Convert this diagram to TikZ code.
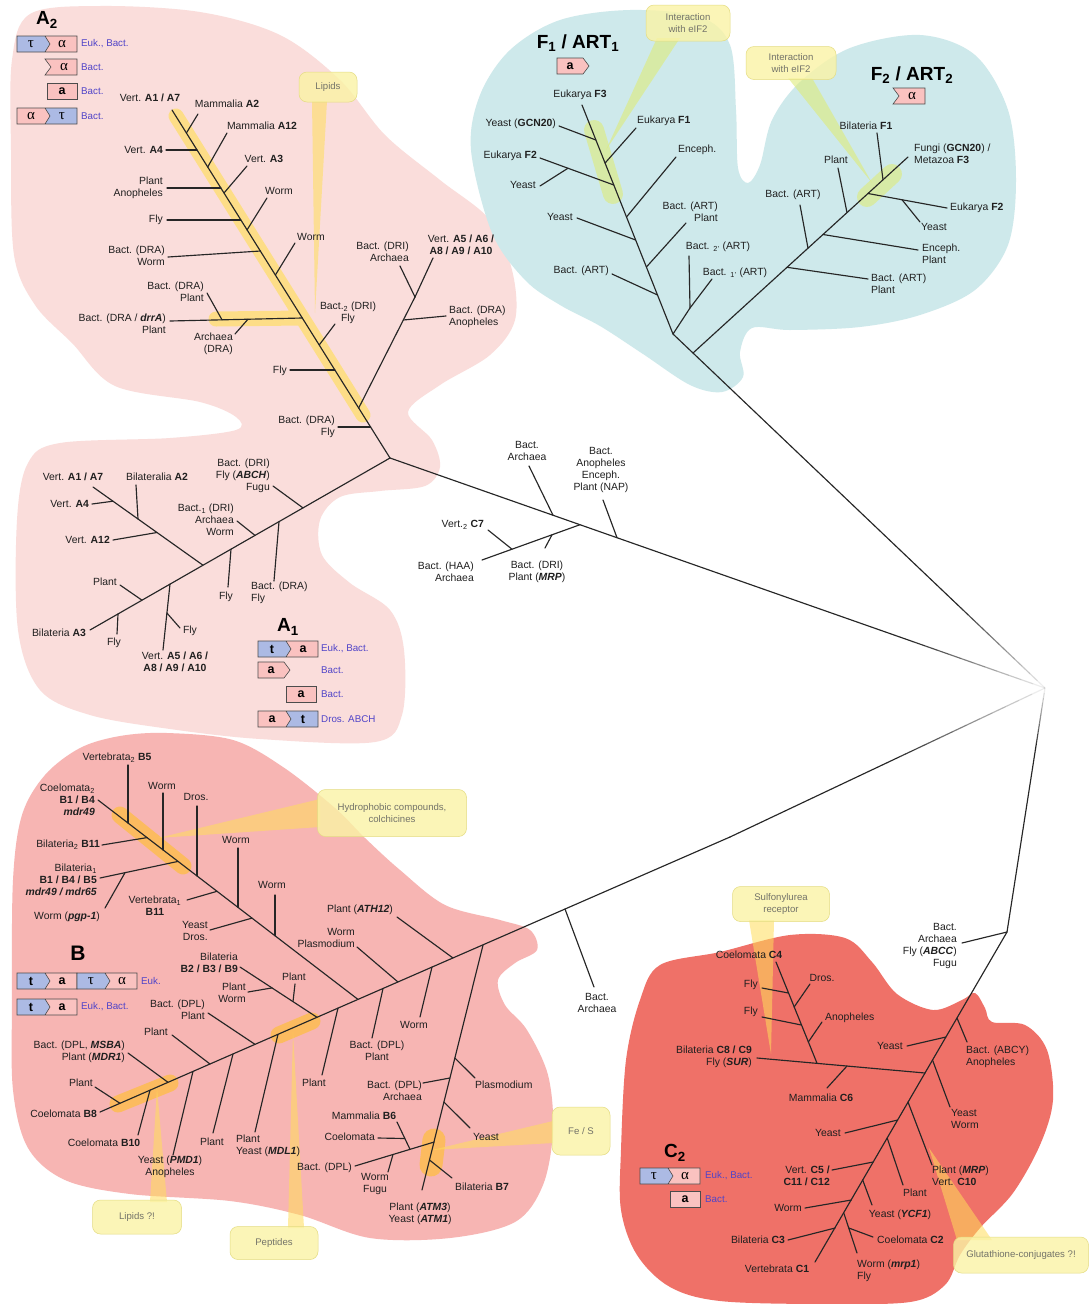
\documentclass[tikz,border=0pt]{standalone}
\usepackage{fontspec}
\setmainfont{Liberation Sans}
\newfontfamily\grkfont{Liberation Serif}
\usetikzlibrary{calc}
\definecolor{colA}{RGB}{250,221,219}
\definecolor{colF}{RGB}{206,233,235}
\definecolor{colB}{RGB}{247,181,179}
\definecolor{colC}{RGB}{239,113,104}
\definecolor{bandY}{RGB}{255,222,90}
\definecolor{bandO}{RGB}{255,190,60}
\definecolor{bandG}{RGB}{222,236,120}
\definecolor{callY}{RGB}{250,243,165}
\definecolor{callB}{RGB}{228,220,130}
\definecolor{callT}{RGB}{115,115,105}
\definecolor{lgBlue}{RGB}{172,186,228}
\definecolor{lgPink}{RGB}{250,194,192}
\definecolor{lgText}{RGB}{80,68,200}
\newcommand\lgT{{\fontsize{12.5}{12}\selectfont\bfseries t}}
\newcommand\lgA{{\fontsize{12.5}{12}\selectfont\bfseries a}}
\newcommand\lgTau{{\grkfont\fontsize{15}{15}\selectfont τ}}
\newcommand\lgAl{{\grkfont\fontsize{15}{15}\selectfont α}}
\tikzset{
 br/.style={line width=1.15pt, draw=black!85, line cap=round},
 lab/.style={font=\fontsize{10.4}{12}\selectfont, inner sep=0pt, text=black!88, align=center},
 ttl/.style={font=\fontsize{19}{20}\selectfont\bfseries, inner sep=0pt},
 lgt/.style={font=\fontsize{9.8}{11}\selectfont, inner sep=0pt, text=lgText, anchor=west},
 lgline/.style={draw=black!70, line width=0.6pt},
 cbox/.style={draw=callB, fill=callY, fill opacity=0.8, text opacity=1, rounded corners=8pt, line width=0.5pt, font=\fontsize{9.6}{11.5}\selectfont, text=callT, align=center, inner sep=2pt},
 stemY/.style={fill=bandY, fill opacity=0.55, draw=none},
 stemG/.style={fill=bandG, fill opacity=0.6, draw=none},
}
\newcommand\lgpair[7]{\begin{scope}[shift={(#2,#3)}]
 \fill[#4] (0,-8) -- (28,-8) -- (33,0) -- (28,8) -- (0,8) -- cycle;
 \fill[#5] (28,-8) -- (60,-8) -- (60,8) -- (28,8) -- (33,0) -- cycle;
 \draw[lgline] (0,-8) rectangle (60,8) (28,-8) -- (33,0) -- (28,8);
 \node[inner sep=0pt] (#1l) at (14,0) {#6};
 \node[inner sep=0pt] (#1r) at (45,0) {#7};
\end{scope}}
\newcommand\lgchev[4]{\begin{scope}[shift={(#2,#3)}]
 \filldraw[lgline, fill=lgPink] (0,-8) -- (26,-8) -- (32,0) -- (26,8) -- (0,8) -- cycle;
 \node[inner sep=0pt] (#1) at (13,0) {#4};
\end{scope}}
\newcommand\lgnotch[4]{\begin{scope}[shift={(#2,#3)}]
 \filldraw[lgline, fill=lgPink] (0,-8) -- (32,-8) -- (32,8) -- (0,8) -- (6,0) -- cycle;
 \node[inner sep=0pt] (#1) at (19,0) {#4};
\end{scope}}
\newcommand\lgbox[4]{\begin{scope}[shift={(#2,#3)}]
 \filldraw[lgline, fill=lgPink] (0,-8) rectangle (30,8);
 \node[inner sep=0pt] (#1) at (15,0) {#4};
\end{scope}}
\newcommand\leafb[6]{\coordinate (#1t) at (#2); \coordinate (#1j) at (#3); \draw[br] (#1t) -- (#1j); \node[lab,#4] (#1) at (#5) {#6};}
\newcommand\fadeto[3]{%
 \draw[br] (#1) -- ($(#1)!#3!(#2)$);
 \foreach \i in {0,...,11} {%
  \pgfmathsetmacro\fa{#3+(1-#3)*\i/12}%
  \pgfmathsetmacro\fb{#3+(1-#3)*(\i+1)/12}%
  \pgfmathsetmacro\op{1-\i/12}%
  \draw[br, line cap=butt, draw opacity=\op] ($(#1)!\fa!(#2)$) -- ($(#1)!\fb!(#2)$);
 }}
\begin{document}
\begin{tikzpicture}[x=1pt,y=-1pt]
\useasboundingbox (0,0) rectangle (1090,1304);
\fill[white] (0,0) rectangle (1090,1304);
% ---------------- blobs
\fill[colA] plot[smooth cycle, tension=0.55] coordinates {(12,60) (30,14) (100,6) (200,12) (280,35) (340,80) (385,135) (440,180) (490,220) (512,270) (515,320) (490,355) (440,385) (408,412) (432,440) (440,467) (425,486) (380,491) (340,497) (320,520) (322,555) (350,583) (390,610) (404,650) (402,715) (375,742) (260,739) (170,729) (90,715) (40,690) (18,630) (17,520) (28,463) (60,443) (170,438) (236,430) (236,417) (200,402) (115,386) (72,343) (35,305) (14,255) (11,150)};
\fill[colF] plot[smooth cycle, tension=0.55] coordinates {(471,150) (480,95) (510,50) (560,20) (630,10) (700,17) (730,45) (736,110) (738,168) (748,183) (760,165) (772,120) (800,82) (850,48) (920,35) (975,55) (1008,110) (1016,180) (1008,245) (975,290) (920,315) (860,327) (790,330) (752,328) (740,352) (743,377) (722,392) (690,385) (643,354) (600,326) (560,305) (525,280) (492,233)};
\fill[colB] plot[smooth cycle, tension=0.55] coordinates {(12,1000) (13,880) (22,815) (45,775) (80,748) (120,736) (167,733) (233,740) (283,767) (335,808) (365,838) (400,870) (445,905) (500,920) (530,930) (537,950) (515,963) (498,980) (505,1005) (527,1030) (548,1075) (553,1130) (543,1185) (515,1222) (450,1238) (370,1238) (300,1215) (230,1201) (130,1194) (65,1180) (28,1148) (13,1090)};
\fill[colC] plot[smooth cycle, tension=0.55] coordinates {(621,1150) (626,1060) (640,1000) (660,965) (720,952) (790,935) (845,938) (872,962) (897,994) (933,1010) (962,1000) (975,993) (985,1008) (992,1022) (1025,1025) (1047,1050) (1053,1100) (1040,1145) (1013,1193) (980,1228) (960,1255) (945,1285) (910,1302) (820,1304) (720,1301) (670,1287) (637,1255) (621,1210)};
% ---------------- highlight bands
\draw[draw=bandY, draw opacity=0.65, line width=15pt, line cap=round] (176,116) -- (363,415) (216,319) -- (302,318);
\draw[draw=bandG, draw opacity=0.6, line width=20pt, line cap=round] (594,130) -- (613,194) (867,197) -- (892,174);
\draw[draw=bandO, draw opacity=0.7, line width=17pt, line cap=round] (120,815) -- (183,866) (118,1104) -- (170,1083) (279,1035) -- (312,1021);
\draw[draw=bandO, draw opacity=0.7, line width=23pt, line cap=round] (434,1140) -- (431,1165);
% ---------------- callout stems
\fill[stemY] (312,101) -- (327,101) -- (315,313) -- cycle;
\fill[stemG] (657,38) -- (680,38) -- (606,150) -- cycle;
\fill[stemG] (788,78) -- (812,78) -- (872,183) -- cycle;
\fill[stemY] (320,799) -- (320,827) -- (158,838) -- cycle;
\fill[stemY] (150,1202) -- (167,1202) -- (157,1088) -- cycle;
\fill[stemY] (288,1228) -- (304,1228) -- (293,1032) -- cycle;
\fill[stemY] (553,1121) -- (553,1143) -- (432,1150) -- cycle;
\fill[stemY] (749,920) -- (774,920) -- (771,1054) -- cycle;
\fill[stemY] (929,1148) -- (957,1240) -- (992,1240) -- cycle;
% ---------------- callout boxes
\node[cbox, minimum width=58pt, minimum height=30pt] (cLip) at (328,87) {Lipids};
\node[cbox, minimum width=84pt, minimum height=36pt] (cInt1) at (688,23) {Interaction\\with eIF2};
\node[cbox, minimum width=90pt, minimum height=33pt] (cInt2) at (791,63) {Interaction\\with eIF2};
\node[cbox, minimum width=149pt, minimum height=47pt] (cHyd) at (392,813) {Hydrophobic compounds,\\colchicines};
\node[cbox, minimum width=89pt, minimum height=34pt] (cLip2) at (137,1217) {Lipids ?!};
\node[cbox, minimum width=88pt, minimum height=33pt] (cPep) at (274,1243) {Peptides};
\node[cbox, minimum width=58pt, minimum height=48pt] (cFe) at (581,1131) {Fe / S};
\node[cbox, minimum width=97pt, minimum height=35pt] (cSul) at (781,904) {Sulfonylurea\\receptor};
\node[cbox, minimum width=135pt, minimum height=36pt] (cGlu) at (1021,1255) {Glutathione-conjugates ?!};
% ---------------- centre and main lines
\coordinate (C0) at (1045,688);
\coordinate (RA) at (390,458);
\coordinate (RF) at (693,353);
\coordinate (Bk) at (730,837);
\coordinate (Cr) at (1007,932);
\fadeto{RA}{C0}{0.78}
\fadeto{RF}{C0}{0.74}
\fadeto{Bk}{C0}{0.5}
\fadeto{Cr}{C0}{0.75}
% ================= A2
\coordinate (TA2) at (172,110);
\draw[br] (TA2) -- (RA);
\node[lab] (a2top) at (150,98) {Vert. \textbf{A1 / A7}};
\leafb{a2a}{198,114}{186.4,133}{}{227,104}{Mammalia \textbf{A2}}
\leafb{a2b}{166,150}{197,150}{anchor=east}{163,150}{Vert. \textbf{A4}}
\leafb{a2c}{227,133}{207.7,167}{}{262,126}{Mammalia \textbf{A12}}
\leafb{a2d}{167,188}{220.9,188}{anchor=east,align=right}{163,188}{Plant\\Anopheles}
\leafb{a2e}{247,166}{224,193}{}{264,159}{Vert. \textbf{A3}}
\leafb{a2f}{167,220}{240.8,220}{anchor=east}{163,220}{Fly}
\leafb{a2g}{267,198}{247,230}{}{279,191}{Worm}
\leafb{a2h}{168,257}{260.5,251}{anchor=east,align=right}{165,256}{Bact. (DRA)\\Worm}
\leafb{a2i}{295,243}{275.4,275}{}{311,237}{Worm}
\coordinate (a2J) at (302.3,318); \coordinate (a2K) at (170,321);
\draw[br] (a2J) -- (a2K);
\node[lab,anchor=east,align=right] (a2k) at (166,324) {Bact. (DRA / \textbf{\textit{drrA}})\\Plant};
\leafb{a2l}{207,293}{222,319.8}{anchor=east,align=right}{204,292}{Bact. (DRA)\\Plant}
\leafb{a2m}{235,334}{248,319.2}{anchor=east,align=right}{233,344}{Archaea\\(DRA)}
\leafb{a2n}{335,324}{319.2,345}{}{348,313}{Bact.\textsubscript{2} (DRI)\\Fly}
\leafb{a2o}{290,370}{334.9,370}{anchor=east}{287,371}{Fly}
\leafb{a2p}{338,427}{370.6,427}{anchor=east,align=right}{335,427}{Bact. (DRA)\\Fly}
\coordinate (a2q) at (358.7,408); \coordinate (a2r) at (415,297);
\draw[br] (a2q) -- (a2r);
\leafb{a2s}{446,316}{403.3,320}{anchor=west,align=left}{449,317}{Bact. (DRA)\\Anopheles}
\leafb{a2t}{400,266}{415,297}{anchor=east,align=right}{409,252}{Bact. (DRI)\\Archaea}
\leafb{a2u}{433,258}{415,297}{}{461,245}{Vert. \textbf{A5 / A6 /}\\\textbf{A8 / A9 / A10}}
% ================= A1
\coordinate (TA1) at (90,630);
\draw[br] (RA) -- (TA1);
\leafb{a1a}{273,486}{303,507.9}{anchor=east,align=right}{270,476}{Bact. (DRI)\\Fly (\textbf{\textit{ABCH}})\\Fugu}
\leafb{a1b}{274,581}{279,521.6}{anchor=west,align=left}{251,593}{Bact. (DRA)\\Fly}
\leafb{a1c}{237,521}{255,535.4}{anchor=east,align=right}{234,520}{Bact.\textsubscript{1} (DRI)\\Archaea\\Worm}
\leafb{a1d}{228,587}{231,549.2}{}{226,597}{Fly}
\coordinate (a1e) at (203,565.2); \coordinate (a1f) at (93,487);
\draw[br] (a1e) -- (a1f);
\node[lab] (a1top) at (73,477) {Vert. \textbf{A1 / A7}};
\leafb{a1g}{136,485}{138,519}{}{157,477}{Bilateralia \textbf{A2}}
\leafb{a1h}{92,504}{113,501.2}{anchor=east}{89,504}{Vert. \textbf{A4}}
\leafb{a1i}{113,540}{157,532.5}{anchor=east}{110,540}{Vert. \textbf{A12}}
\leafb{a1j}{120,585}{142,600.2}{anchor=east}{117,582}{Plant}
\coordinate (a1k) at (170,584.1); \coordinate (a1l) at (163,650);
\draw[br] (a1k) -- (a1l);
\node[lab] (a1v) at (175,662) {Vert. \textbf{A5 / A6 /}\\\textbf{A8 / A9 / A10}};
\leafb{a1m}{180,628}{166.9,613}{}{190,631}{Fly}
\leafb{a1n}{117,634}{118,614}{}{114,643}{Fly}
\node[lab,anchor=east] (a1b3) at (86,633) {Bilateria \textbf{A3}};
% ================= F1 / F2
\coordinate (mF) at (673,334); \coordinate (TF1) at (582,105);
\draw[br] (TF1) -- (mF) -- (RF);
\node[lab] (f1top) at (580,95) {Eukarya \textbf{F3}};
\leafb{f1a}{559,126}{595.9,140}{anchor=east}{556,124}{Yeast (\textbf{GCN20})}
\leafb{f1b}{636,128}{605.1,163}{anchor=west}{637,121}{Eukarya \textbf{F1}}
\leafb{f1c}{540,158}{613.8,185}{anchor=east}{537,156}{Eukarya \textbf{F2}}
\leafb{f1d}{540,186}{568,168.2}{anchor=east}{536,185}{Yeast}
\leafb{f1e}{676,157}{626.5,217}{anchor=west}{678,150}{Enceph.}
\leafb{f1f}{577,218}{635.6,240}{anchor=east}{573,217}{Yeast}
\leafb{f1g}{686,223}{646.4,267}{anchor=east,align=right}{718,212}{Bact. (ART)\\Plant}
\leafb{f1h}{612,274}{657.6,295}{anchor=east}{609,271}{Bact. (ART)}
\coordinate (nF) at (690,308);
\draw[br] (mF) -- (nF);
\leafb{f1i}{689,256}{690,308}{}{718,247}{Bact. \textsubscript{2'} (ART)}
\leafb{f1j}{712,279}{690,308}{}{735,273}{Bact. \textsubscript{1'} (ART)}
\coordinate (TF2) at (908,157);
\draw[br] (RF) -- (TF2);
\leafb{f2a}{868,279}{787,267.3}{anchor=west,align=left}{871,284}{Bact. (ART)\\Plant}
\leafb{f2b}{800,205}{808,248.2}{}{793,195}{Bact. (ART)}
\leafb{f2c}{918,250}{823,234.5}{anchor=west,align=left}{922,254}{Enceph.\\Plant}
\leafb{f2d}{838,168}{847,212.6}{}{836,160}{Plant}
\leafb{f2e}{947,208}{868,193.5}{anchor=west}{950,208}{Eukarya \textbf{F2}}
\leafb{f2f}{920,222}{902,199.7}{anchor=west}{921,227}{Yeast}
\leafb{f2g}{877,133}{883,179.8}{}{866,126}{Bilateria \textbf{F1}}
\node[lab,anchor=west,align=left] (f2top) at (914,154) {Fungi (\textbf{GCN20}) /\\Metazoa \textbf{F3}};
% ================= centre subtree
\leafb{cA}{529,466}{553,515.2}{}{527,451}{Bact.\\Archaea}
\coordinate (cB) at (580,524.7); \coordinate (cBt) at (482,560);
\draw[br] (cB) -- (cBt);
\leafb{cC}{545,548}{552,534.8}{}{537,572}{Bact. (DRI)\\Plant (\textbf{\textit{MRP}})}
\leafb{cD}{488,530}{512,549.2}{anchor=east}{484,525}{Vert.\textsubscript{2} \textbf{C7}}
\node[lab,anchor=east,align=right] (cHAA) at (474,572) {Bact. (HAA)\\Archaea};
\leafb{cE}{603,500}{617,537.7}{}{601,470}{Bact.\\Anopheles\\Enceph.\\Plant (NAP)}
% ================= B
\coordinate (TB) at (100,1112);
\draw[br] (TB) -- (Bk);
\node[lab,anchor=east] (b0) at (97,1114) {Coelomata \textbf{B8}};
\leafb{b1}{95,1087}{120,1103.3}{anchor=east}{93,1083}{Plant}
\leafb{b2}{138,1135}{150,1090.2}{}{104,1143}{Coelomata \textbf{B10}}
\leafb{b3}{128,1053}{168,1082.3}{anchor=east,align=right}{125,1052}{Bact. (DPL, \textbf{\textit{MSBA}})\\Plant (\textbf{\textit{MDR1}})}
\leafb{b4}{173,1155}{193,1071.4}{}{170,1167}{Yeast (\textbf{\textit{PMD1}})\\Anopheles}
\leafb{b5}{172,1035}{210,1064}{anchor=east}{168,1032}{Plant}
\leafb{b6}{213,1133}{233,1054}{}{212,1142}{Plant}
\leafb{b7}{208,1013}{255,1044.3}{anchor=east,align=right}{205,1010}{Bact. (DPL)\\Plant}
\leafb{b8}{255,1132}{278,1034.3}{anchor=west,align=left}{236,1146}{Plant\\Yeast (\textbf{\textit{MDL1}})}
\coordinate (b9j) at (317,1017.3); \coordinate (b9t) at (240,967);
\draw[br] (b9j) -- (b9t);
\node[lab,anchor=east,align=right] (b9) at (238,963) {Bilateria\\\textbf{B2 / B3 / B9}};
\leafb{b10}{248,992}{272,987.9}{anchor=east,align=right}{246,993}{Plant\\Worm}
\leafb{b11}{295,984}{293,1001.6}{}{294,977}{Plant}
\leafb{b12}{322,1075}{338,1008.1}{}{314,1083}{Plant}
\coordinate (b13j) at (358,999.4); \coordinate (b13t) at (98,800);
\draw[br] (b13j) -- (b13t);
\node[lab,anchor=east,align=right] (b13) at (95,800) {Coelomata\textsubscript{2}\\\textbf{B1 / B4}\\\textbf{\textit{mdr49}}};
\leafb{bu1}{128,765}{128,823}{}{117,758}{Vertebrata\textsubscript{2} \textbf{B5}}
\leafb{bu2}{163,793}{163,849.9}{}{162,786}{Worm}
\leafb{bu3}{102,845}{147,837.6}{anchor=east}{100,845}{Bilateria\textsubscript{2} \textbf{B11}}
\leafb{bu4}{197,806}{197,875.9}{}{196,797}{Dros.}
\coordinate (bu5j) at (178,861.4); \coordinate (bu5t) at (100,878);
\draw[br] (bu5j) -- (bu5t);
\node[lab,anchor=east,align=right] (bu5) at (97,880) {Bilateria\textsubscript{1}\\\textbf{B1 / B4 / B5}\\\textbf{\textit{mdr49 / mdr65}}};
\leafb{bu6}{105,908}{125,872.7}{anchor=east}{100,917}{Worm (\textbf{\textit{pgp-1}})}
\leafb{bu7}{187,900}{217,891.3}{}{155,906}{Vertebrata\textsubscript{1}\\\textbf{B11}}
\leafb{bu8}{238,848}{238,907.4}{}{236,840}{Worm}
\leafb{bu9}{210,930}{252,918.1}{anchor=east,align=right}{208,931}{Yeast\\Dros.}
\leafb{bu10}{275,895}{275,935.8}{}{272,885}{Worm}
\leafb{b14}{372,1038}{383,988.5}{}{377,1051}{Bact. (DPL)\\Plant}
\leafb{b15}{357,947}{398,982}{anchor=east,align=right}{355,938}{Worm\\Plasmodium}
\leafb{b16}{420,1017}{432,967}{}{414,1025}{Worm}
\leafb{b17}{397,917}{453,958}{anchor=east}{393,910}{Plant (\textbf{\textit{ATH12}})}
\coordinate (b18j) at (483,945.2); \coordinate (b18t) at (422,1190);
\draw[br] (b18j) -- (b18t);
\leafb{b19}{475,1078}{454.9,1058}{anchor=west}{475,1085}{Plasmodium}
\leafb{b20}{423,1083}{449.9,1078}{anchor=east,align=right}{422,1091}{Bact. (DPL)\\Archaea}
\leafb{b21}{470,1128}{443.9,1102}{anchor=west}{473,1137}{Yeast}
\leafb{b22}{452,1178}{429.5,1160}{anchor=west}{455,1187}{Bilateria \textbf{B7}}
\node[lab] (b18) at (420,1214) {Plant (\textbf{\textit{ATM3}})\\Yeast (\textbf{\textit{ATM1}})};
\coordinate (b23j) at (434.2,1142); \coordinate (b23t) at (355,1166);
\draw[br] (b23j) -- (b23t);
\coordinate (b24j) at (410,1149.3); \coordinate (b24t) at (397,1122);
\draw[br] (b24t) -- (b24j);
\node[lab] (b24) at (364,1116) {Mammalia \textbf{B6}};
\leafb{b25}{378,1138}{404.9,1138.5}{anchor=east}{375,1137}{Coelomata}
\leafb{b26}{388,1172}{393,1154.5}{}{375,1184}{Worm\\Fugu}
\node[lab,anchor=east] (b23) at (352,1168) {Bact. (DPL)};
\leafb{b27}{594,987}{565,909}{}{597,1003}{Bact.\\Archaea}
% ================= C
\coordinate (TC) at (815,1262);
\draw[br] (Cr) -- (TC);
\leafb{c1}{962,943}{1007,932}{anchor=east,align=right}{957,946}{Bact.\\Archaea\\Fly (\textbf{\textit{ABCC}})\\Fugu}
\leafb{c2}{967,1042}{957,1018}{anchor=west,align=left}{966,1057}{Bact. (ABCY)\\Anopheles}
\leafb{c3}{907,1046}{945.9,1037}{anchor=east}{903,1046}{Yeast}
\leafb{c4}{950,1107}{932.5,1060}{anchor=west,align=left}{951,1119}{Yeast\\Worm}
\coordinate (c5j) at (925,1073); \coordinate (c5t) at (757,1058);
\draw[br] (c5j) -- (c5t);
\node[lab,anchor=east,align=right] (c5) at (752,1057) {Bilateria \textbf{C8 / C9}\\Fly (\textbf{\textit{SUR}})};
\coordinate (c6j) at (817,1063.2); \coordinate (c6t) at (776,962);
\draw[br] (c6j) -- (c6t);
\node[lab] (c6) at (749,955) {Coelomata \textbf{C4}};
\leafb{c7}{762,988}{788.5,993}{anchor=east}{758,985}{Fly}
\leafb{c8}{810,984}{794.1,1007}{}{822,978}{Dros.}
\leafb{c9}{762,1017}{801.4,1025}{anchor=east}{758,1012}{Fly}
\leafb{c10}{822,1022}{808.3,1042}{anchor=west}{825,1018}{Anopheles}
\leafb{c11}{827,1088}{847,1066}{}{821,1098}{Mammalia \textbf{C6}}
\leafb{c12}{932,1165}{908,1102}{anchor=west,align=left}{932,1176}{Plant (\textbf{\textit{MRP}})\\Vert. \textbf{C10}}
\leafb{c13}{845,1133}{897.6,1120}{anchor=east}{841,1133}{Yeast}
\leafb{c14}{903,1185}{887.2,1138}{}{915,1193}{Plant}
\leafb{c15}{832,1170}{873.2,1162}{anchor=east,align=right}{830,1176}{Vert. \textbf{C5 /}\\\textbf{C11 / C12}}
\leafb{c16}{872,1205}{862.7,1180}{}{900,1215}{Yeast (\textbf{\textit{YCF1}})}
\leafb{c17}{805,1208}{851.4,1200}{anchor=east}{802,1208}{Worm}
\coordinate (c18j) at (843.8,1213); \coordinate (c18t) at (857,1253);
\draw[br] (c18j) -- (c18t);
\node[lab,anchor=west,align=left] (c18) at (857,1271) {Worm (\textbf{\textit{mrp1}})\\Fly};
\leafb{c19}{873,1237}{848.8,1228}{anchor=west}{877,1240}{Coelomata \textbf{C2}}
\leafb{c20}{788,1240}{835.1,1228}{anchor=east}{785,1240}{Bilateria \textbf{C3}}
\node[lab] (c21) at (777,1269) {Vertebrata \textbf{C1}};
% ================= titles and legends
\node[ttl] (tA2) at (47,20) {A\textsubscript{2}};
\lgpair{lgAa}{17}{44}{lgBlue}{lgPink}{\lgTau}{\lgAl}
\node[lgt] (lgAat) at (81,44) {Euk., Bact.};
\lgnotch{lgAb}{45}{67}{\lgAl}
\node[lgt] (lgAbt) at (81,67) {Bact.};
\lgbox{lgAc}{47}{91}{\lgA}
\node[lgt] (lgAct) at (81,91) {Bact.};
\lgpair{lgAd}{17}{116}{lgPink}{lgBlue}{\lgAl}{\lgTau}
\node[lgt] (lgAdt) at (81,116) {Bact.};
\node[ttl] (tA1) at (288,627) {A\textsubscript{1}};
\lgpair{lgBa}{258}{649}{lgBlue}{lgPink}{\lgT}{\lgA}
\node[lgt] (lgBat) at (321,649) {Euk., Bact.};
\lgchev{lgBb}{258}{670}{\lgA}
\node[lgt] (lgBbt) at (321,670) {Bact.};
\lgbox{lgBc}{286}{694}{\lgA}
\node[lgt] (lgBct) at (321,694) {Bact.};
\lgpair{lgBd}{258}{719}{lgPink}{lgBlue}{\lgA}{\lgT}
\node[lgt] (lgBdt) at (321,719) {Dros. ABCH};
\node[ttl] (tF1) at (578,43) {F\textsubscript{1} / ART\textsubscript{1}};
\lgchev{lgF1}{557}{66}{\lgA}
\node[ttl] (tF2) at (912,75) {F\textsubscript{2} / ART\textsubscript{2}};
\lgnotch{lgF2}{893}{96}{\lgAl}
\node[ttl,font=\fontsize{21}{22}\selectfont\bfseries] (tB) at (78,953) {B};
\lgpair{lgCa}{17}{981}{lgBlue}{lgPink}{\lgT}{\lgA}
\lgpair{lgCb}{77}{981}{lgBlue}{lgPink}{\lgTau}{\lgAl}
\node[lgt] (lgCat) at (141,981) {Euk.};
\lgpair{lgCc}{17}{1007}{lgBlue}{lgPink}{\lgT}{\lgA}
\node[lgt] (lgCct) at (81,1007) {Euk., Bact.};
\node[ttl] (tC2) at (675,1153) {C\textsubscript{2}};
\lgpair{lgDa}{640}{1176}{lgBlue}{lgPink}{\lgTau}{\lgAl}
\node[lgt] (lgDat) at (705,1176) {Euk., Bact.};
\lgbox{lgDb}{670}{1199}{\lgA}
\node[lgt] (lgDbt) at (705,1199) {Bact.};
\end{tikzpicture}
\end{document}
